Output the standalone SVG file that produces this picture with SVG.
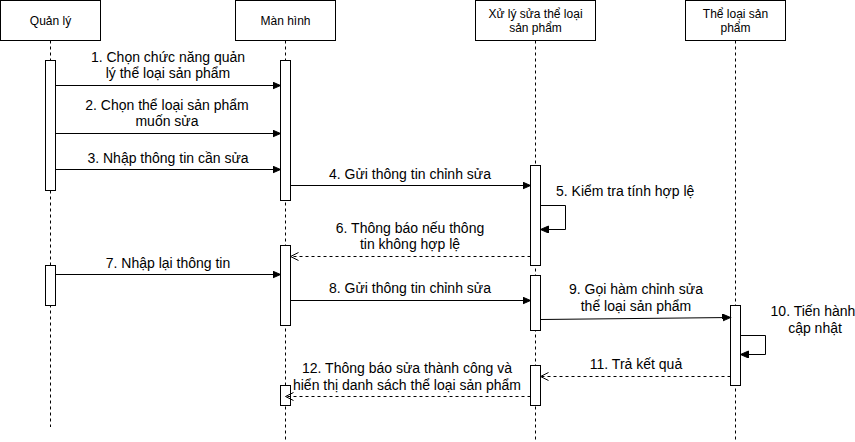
<svg xmlns="http://www.w3.org/2000/svg" width="855" height="442" viewBox="0 0 855 442">
<defs>
<style>
.box{fill:#fff;stroke:#000;stroke-width:1}
.life{stroke:#000;stroke-width:1;stroke-dasharray:3 3;fill:none}
.act{fill:#fff;stroke:#000;stroke-width:1}
.hd{font-family:"Liberation Sans",Arial,sans-serif;font-size:12px;fill:#000;text-anchor:middle}
.lb{font-family:"Liberation Sans",Arial,sans-serif;font-size:14px;fill:#000;text-anchor:middle}
.msg{stroke:#000;stroke-width:1;fill:none;marker-end:url(#block)}
.ret{stroke:#000;stroke-width:1;fill:none;stroke-dasharray:3 3;marker-end:url(#open)}
</style>
<marker id="block" markerUnits="userSpaceOnUse" markerWidth="10" markerHeight="10" refX="8" refY="3.5" orient="auto">
<path d="M0,0 L8,3.5 L0,7 z" fill="#000" stroke="#000" stroke-width="1"/>
</marker>
<marker id="open" markerUnits="userSpaceOnUse" markerWidth="10" markerHeight="10" refX="8.5" refY="4.5" orient="auto">
<path d="M0.5,0.5 L8.5,4.5 L0.5,8.5" fill="none" stroke="#000" stroke-width="1"/>
</marker>
</defs>
<rect width="855" height="442" fill="#fff"/>

<g id="quanly">
<rect class="box" x="0.5" y="0.5" width="100" height="40"/>
<text class="hd" x="50.5" y="25">Quản lý</text>
<line class="life" x1="50.5" y1="40.5" x2="50.5" y2="427"/>
<rect class="act" x="45.5" y="60.5" width="10" height="130"/>
<rect class="act" x="45.5" y="265.5" width="10" height="40"/>
</g>

<g id="manhinh">
<rect class="box" x="235.5" y="0.5" width="100" height="40"/>
<text class="hd" x="285.5" y="25">Màn hình</text>
<line class="life" x1="285.5" y1="40.5" x2="285.5" y2="442"/>
<rect class="act" x="280.5" y="60.5" width="10" height="140"/>
<rect class="act" x="280.5" y="245.5" width="10" height="80"/>
<rect class="act" x="280.5" y="385.5" width="10" height="20"/>
</g>

<g id="xuly">
<rect class="box" x="475.5" y="0.5" width="120" height="40"/>
<text class="hd" x="535.5" y="18">Xử lý sửa thể loại</text>
<text class="hd" x="535.5" y="31.5">sản phẩm</text>
<line class="life" x1="535.5" y1="40.5" x2="535.5" y2="442"/>
<rect class="act" x="530.5" y="165.5" width="10" height="100"/>
<rect class="act" x="530.5" y="275.5" width="10" height="55"/>
<rect class="act" x="530.5" y="365.5" width="10" height="40"/>
</g>

<g id="theloai">
<rect class="box" x="685.5" y="0.5" width="100" height="40"/>
<text class="hd" x="735.5" y="18">Thể loại sản</text>
<text class="hd" x="735.5" y="31.5">phẩm</text>
<line class="life" x1="735.5" y1="40.5" x2="735.5" y2="442"/>
<rect class="act" x="730.5" y="305.5" width="10" height="80"/>
</g>

<g id="connectors">
<line class="msg" x1="55.5" y1="85.5" x2="280.5" y2="85.5"/>
<text class="lb" x="168" y="62">1. Chọn chức năng quản</text>
<text class="lb" x="168" y="78">lý thể loại sản phẩm</text>

<line class="msg" x1="55.5" y1="133.5" x2="280.5" y2="133.5"/>
<text class="lb" x="167" y="110">2. Chọn thể loại sản phẩm</text>
<text class="lb" x="167" y="126">muốn sửa</text>

<line class="msg" x1="55.5" y1="169.5" x2="280.5" y2="169.5"/>
<text class="lb" x="168" y="163">3. Nhập thông tin cần sửa</text>

<line class="msg" x1="290.5" y1="185.5" x2="530.5" y2="185.5"/>
<text class="lb" x="410" y="179">4. Gửi thông tin chỉnh sửa</text>

<polyline class="msg" points="540.5,205.5 565.5,205.5 565.5,229.5 540.5,229.5"/>
<text class="lb" x="556" y="196" style="text-anchor:start">5. Kiểm tra tính hợp lệ</text>

<line class="ret" x1="530.5" y1="256.5" x2="290.5" y2="256.5"/>
<text class="lb" x="410" y="233">6. Thông báo nếu thông</text>
<text class="lb" x="410" y="249">tin không hợp lệ</text>

<line class="msg" x1="55.5" y1="274.5" x2="280.5" y2="274.5"/>
<text class="lb" x="168" y="268">7. Nhập lại thông tin</text>

<line class="msg" x1="290.5" y1="300.5" x2="530.5" y2="300.5"/>
<text class="lb" x="410" y="293">8. Gửi thông tin chỉnh sửa</text>

<line class="msg" x1="540.5" y1="319.5" x2="730.5" y2="317.5"/>
<text class="lb" x="636" y="294">9. Gọi hàm chỉnh sửa</text>
<text class="lb" x="636" y="311">thể loại sản phẩm</text>

<polyline class="msg" points="740.5,335.5 765.5,335.5 765.5,354.5 740.5,354.5"/>
<text class="lb" x="813" y="316">10. Tiến hành</text>
<text class="lb" x="815" y="333">cập nhật</text>

<line class="ret" x1="730.5" y1="376.5" x2="540.5" y2="376.5"/>
<text class="lb" x="636" y="369">11. Trả kết quả</text>

<line class="ret" x1="530.5" y1="396.5" x2="285.5" y2="396.5"/>
<text class="lb" x="407" y="373">12. Thông báo sửa thành công và</text>
<text class="lb" x="407" y="390">hiển thị danh sách thể loại sản phẩm</text>
</g>
</svg>
